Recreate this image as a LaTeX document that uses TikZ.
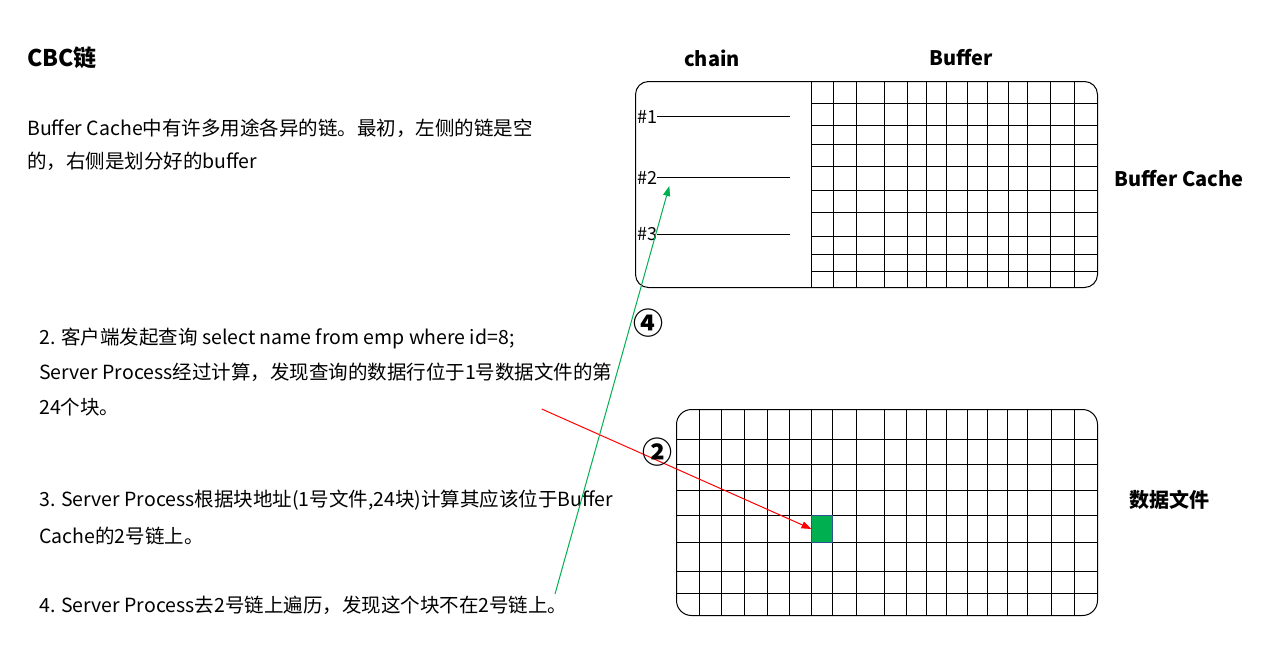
\documentclass[tikz,border=0pt]{standalone}
\usepackage{fontspec}
\setmainfont{Noto Sans CJK SC}
\usetikzlibrary{arrows.meta}
\begin{document}
\begin{tikzpicture}[x=1pt,y=-1pt,
  txt/.style={anchor=west,inner sep=0pt,font=\fontsize{19.5}{23}\selectfont},
  lbl/.style={anchor=center,inner sep=0pt,font=\fontsize{20}{24}\selectfont\bfseries},
  chainlbl/.style={anchor=west,inner sep=0pt,font=\fontsize{18}{22}\selectfont},
  circ/.style={anchor=center,inner sep=0pt,font=\fontsize{30}{34}\selectfont\bfseries},
  box/.style={draw=black,line width=1pt,rounded corners=13pt,inner sep=0pt,outer sep=0pt},
  gridline/.style={draw=black,line width=1pt},
  cell/.style={draw={rgb,255:red,47;green,82;blue,143},fill={rgb,255:red,0;green,176;blue,80},line width=1pt,inner sep=0pt,outer sep=0pt},
  redarrow/.style={draw=red,line width=1pt,-{Triangle[length=10pt,width=7pt]}},
  greenarrow/.style={draw={rgb,255:red,0;green,176;blue,80},line width=1pt,-{Triangle[length=10pt,width=7pt]}}
]
\useasboundingbox (0,0) rectangle (1261,654);

% titles and texts
\node[txt,font=\fontsize{23}{27}\selectfont\bfseries] (title) at (27,58) {CBC链};
\node[txt] (intro1) at (27,128) {Buffer Cache中有许多用途各异的链。最初，左侧的链是空};
\node[txt] (intro2) at (27,161) {的，右侧是划分好的buffer};
\node[txt] (s2a) at (39,338) {2. 客户端发起查询 select name from emp where id=8;};
\node[txt] (s2b) at (39,372) {Server Process经过计算，发现查询的数据行位于1号数据文件的第};
\node[txt] (s2c) at (39,407) {24个块。};
\node[txt] (s3a) at (39,500) {3. Server Process根据块地址(1号文件,24块)计算其应该位于Buffer};
\node[txt] (s3b) at (39,536) {Cache的2号链上。};
\node[txt] (s4) at (39,605) {4. Server Process去2号链上遍历，发现这个块不在2号链上。};

\node[lbl] (chainhdr) at (712,58) {chain};
\node[lbl] (bufhdr) at (961,58) {Buffer};
\node[lbl] (bchdr) at (1179,179) {Buffer Cache};
\node[lbl] (dfhdr) at (1169,500) {数据文件};

% buffer cache box
\node[box,minimum width=462pt,minimum height=206pt] (cache) at (866.5,184.5) {};
\draw[gridline] (811.5,81.5) -- (811.5,287.5);
\foreach \x in {833.5,856.5,884.5,907.5,926.5,946.5,967.5,987.5,1008.5,1027.5,1050.5,1074.5}
  \draw[gridline] (\x,81.5) -- (\x,287.5);
\foreach \y in {103.5,125.5,144.5,166.5,190.5,212.5,236.5,254.5,271.5}
  \draw[gridline] (811.5,\y) -- (1097.5,\y);

% chains
\node[chainlbl] (c1) at (637,116.5) {\#1};
\node[chainlbl] (c2) at (637,177.5) {\#2};
\node[chainlbl] (c3) at (637,234.5) {\#3};
\coordinate (c1e) at (789.5,116.5);
\coordinate (c2e) at (789.5,177.5);
\coordinate (c3e) at (789.5,234.5);
\draw[gridline] (c1.east) -- (c1e);
\draw[gridline] (c2.east) -- (c2e);
\draw[gridline] (c3.east) -- (c3e);

% data file box
\node[box,rounded corners=15pt,minimum width=421pt,minimum height=206pt] (dfile) at (887,512.5) {};
\foreach \x in {699.5,721.5,744.5,767.5,789.5,811.5,832.5,856.5,884.5,906.5,926.5,946.5,967.5,987.5,1007.5,1027.5,1051.5,1074.5}
  \draw[gridline] (\x,409.5) -- (\x,615.5);
\foreach \y in {439.5,464.5,490.5,515.5,542.5,571.5,593.5}
  \draw[gridline] (676.5,\y) -- (1097.5,\y);
\node[cell,minimum width=21pt,minimum height=27pt] (blk) at (822,529) {};

% arrows
\coordinate (rstart) at (541.7,409);
\draw[redarrow] (rstart) -- (blk.west);
\coordinate (gstart) at (555,594);
\coordinate (gtip) at (669.3,186);
\draw[greenarrow] (gstart) -- (gtip);

\node[circ] (n4) at (648.3,323.3) {④};
\node[circ] (n2) at (657.7,451.7) {②};
\end{tikzpicture}
\end{document}
